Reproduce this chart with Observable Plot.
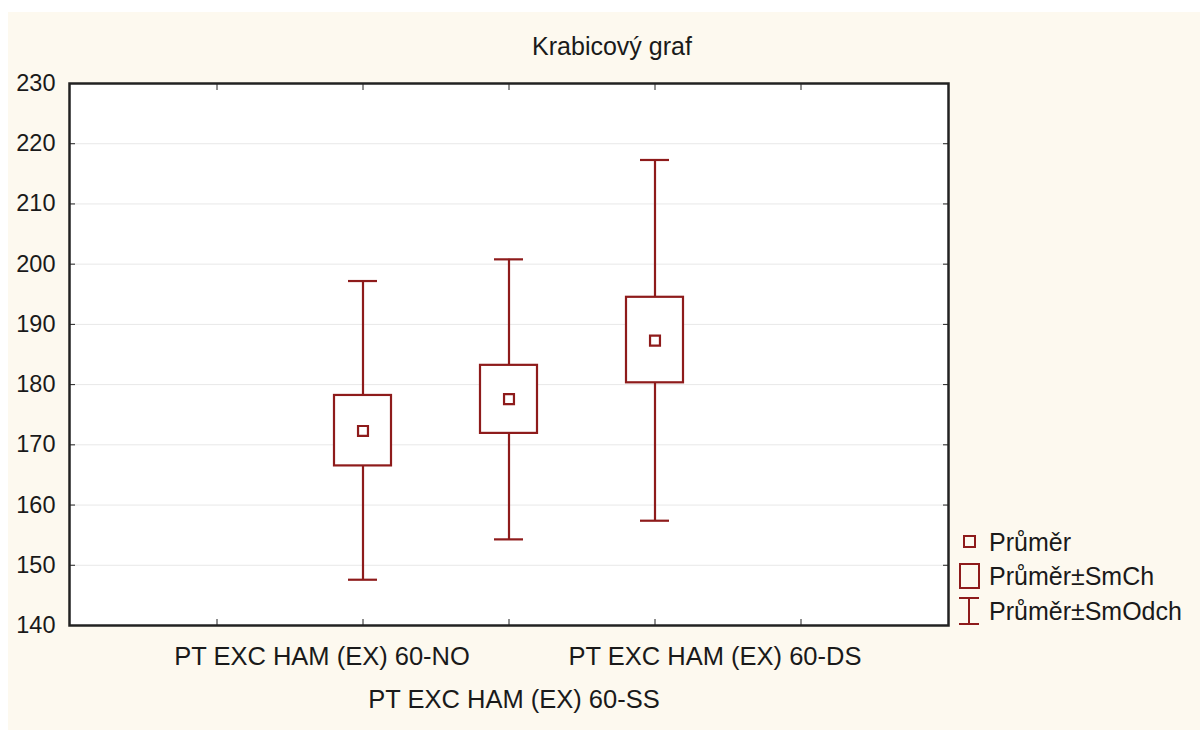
<!DOCTYPE html>
<html>
<head>
<meta charset="utf-8">
<script src="https://cdn.jsdelivr.net/npm/d3@7"></script>
<script src="https://cdn.jsdelivr.net/npm/@observablehq/plot@0.6"></script>
<style>
  html, body { margin: 0; padding: 0; background: #ffffff; }
  #wrap { position: relative; width: 1202px; height: 735px; overflow: hidden; font-family: "Liberation Sans", Arial, sans-serif; color: #1a1a1a; }
  #bg { position: absolute; left: 8px; top: 12px; width: 1192px; height: 718px; background: #fdf9ef; }
  #chart { position: absolute; left: 0; top: 0; }
  #title { position: absolute; left: 0; width: 1224px; top: 30px; text-align: center; font-size: 25px; line-height: 32px; }
  .leg { position: absolute; left: 958px; font-size: 25px; line-height: 30px; display: flex; align-items: center; }
  .leg svg { width: 24px; height: 30px; margin-right: 7px; flex: none; }
</style>
</head>
<body>
<div id="wrap">
  <div id="bg"></div>
  <div id="chart"></div>
  <div id="title"></div>
  <div id="legend"></div>
</div>
<script>
// ---- data ----
const categories = ["PT EXC HAM (EX) 60-NO", "PT EXC HAM (EX) 60-SS", "PT EXC HAM (EX) 60-DS"];
const means = [172.3, 177.6, 187.3];
const seLow = [166.5, 171.9, 180.3];
const seHigh = [178.2, 183.2, 194.5];
const sdLow = [147.6, 154.3, 157.4];
const sdHigh = [197.2, 200.8, 217.3];
const yTicks = [140, 150, 160, 170, 180, 190, 200, 210, 220, 230];
const legendLabels = ["Průměr", "Průměr±SmCh", "Průměr±SmOdch"];
const titleText = "Krabicový graf";

const color = "#8e1b1b";
const data = categories.map((c, i) => ({
  cat: c, mean: means[i], lo: seLow[i], hi: seHigh[i], min: sdLow[i], max: sdHigh[i]
}));
// blank slots at both ends (tick positions without a group)
const xDomain = [" ", ...categories, "  "];

const chart = Plot.plot({
  width: 1202,
  height: 735,
  marginLeft: 69,
  marginRight: 254,
  marginTop: 83,
  marginBottom: 110,
  style: { background: "transparent", fontFamily: "Liberation Sans, Arial, sans-serif", fontSize: "23px", color: "#1a1a1a", overflow: "visible" },
  x: { type: "band", domain: xDomain, paddingInner: 0.611, paddingOuter: 0.806, axis: null },
  y: { domain: [140, 230], axis: null },
  marks: [
    Plot.frame({ fill: "white", stroke: null }),
    Plot.gridY(yTicks, { stroke: "#e8e8e8", strokeOpacity: 1 }),
    Plot.ruleX(data, { x: "cat", y1: "min", y2: "max", stroke: color, strokeWidth: 2.2 }),
    Plot.tickY(data, { x: "cat", y: "min", inset: 14, stroke: color, strokeWidth: 2.2 }),
    Plot.tickY(data, { x: "cat", y: "max", inset: 14, stroke: color, strokeWidth: 2.2 }),
    Plot.barY(data, { x: "cat", y1: "lo", y2: "hi", fill: "white", stroke: color, strokeWidth: 2.2 }),
    Plot.dot(data, { x: "cat", y: "mean", symbol: "square", r: 5.6, fill: "white", stroke: color, strokeWidth: 2.2 }),
    Plot.axisY(yTicks, { anchor: "left", tickSize: -6, tickPadding: 20, fontSize: 23.5, label: null, stroke: "#222" }),
    Plot.axisY(yTicks, { anchor: "right", tickSize: -6, tickFormat: () => "", label: null, stroke: "#222" }),
    Plot.axisX({ anchor: "top", tickSize: -6, tickFormat: () => "", label: null, stroke: "#222" }),
    Plot.axisX({ anchor: "bottom", tickSize: -6, tickFormat: () => "", label: null, stroke: "#222" }),
    Plot.text([categories[0]], { x: d => d, frameAnchor: "bottom", dx: -41, dy: 39, fontSize: 25.5, fill: "#1a1a1a" }),
    Plot.text([categories[1]], { x: d => d, frameAnchor: "bottom", dx: 5, dy: 82, fontSize: 25.5, fill: "#1a1a1a" }),
    Plot.text([categories[2]], { x: d => d, frameAnchor: "bottom", dx: 60, dy: 39, fontSize: 25.5, fill: "#1a1a1a" }),
    Plot.frame({ stroke: "#222", strokeWidth: 2.5 })
  ]
});
document.getElementById("chart").appendChild(chart);
document.getElementById("title").textContent = titleText;

// ---- legend ----
const icons = [
  `<svg viewBox="0 0 24 30"><rect x="6" y="9" width="11" height="11" fill="none" stroke="${color}" stroke-width="2"/></svg>`,
  `<svg viewBox="0 0 24 30"><rect x="2" y="3" width="19" height="24" fill="none" stroke="${color}" stroke-width="2"/></svg>`,
  `<svg viewBox="0 0 24 30"><path d="M1,2H21M11,2V28M1,28H21" fill="none" stroke="${color}" stroke-width="2"/></svg>`
];
const tops = [527, 561, 596];
const legend = document.getElementById("legend");
legendLabels.forEach((t, i) => {
  const row = document.createElement("div");
  row.className = "leg";
  row.style.top = tops[i] + "px";
  row.innerHTML = icons[i];
  const span = document.createElement("span");
  span.textContent = t;
  row.appendChild(span);
  legend.appendChild(row);
});
</script>
</body>
</html>
